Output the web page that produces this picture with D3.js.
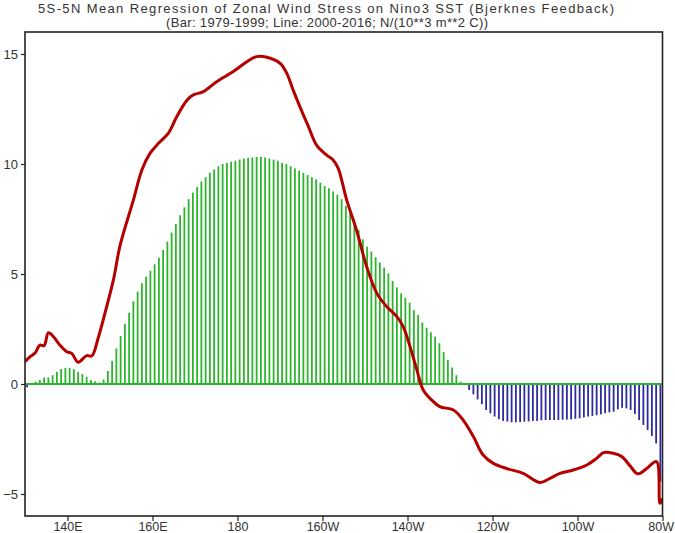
<!DOCTYPE html>
<html>
<head>
<meta charset="utf-8">
<script src="https://cdnjs.cloudflare.com/ajax/libs/d3/7.8.5/d3.min.js"></script>
<style>
  html, body { margin: 0; padding: 0; background: #fff; }
  text { font-family: "Liberation Sans", Arial, sans-serif; fill: #333; }
</style>
</head>
<body>
<div id="chart"></div>
<script>
// bars: regression 1979-1999, one bar per degree (130.5E ... 279.5E)
var barValues = [
  -0.15, 0.03, 0.1, 0.18, 0.29, 0.3, 0.4, 0.55, 0.68, 0.73,
  0.73, 0.67, 0.55, 0.45, 0.33, 0.18, 0.12, 0.06, 0.2, 0.59,
  1.05, 1.62, 2.18, 2.73, 3.24, 3.76, 4.2, 4.58, 4.88, 5.15,
  5.44, 5.74, 6.09, 6.47, 6.88, 7.27, 7.67, 8.03, 8.4, 8.7,
  8.95, 9.2, 9.4, 9.6, 9.75, 9.9, 10.0, 10.05, 10.1, 10.15,
  10.2, 10.25, 10.28, 10.3, 10.32, 10.32, 10.3, 10.25, 10.2, 10.15,
  10.05, 10.0, 9.9, 9.8, 9.7, 9.6, 9.5, 9.4, 9.3, 9.15,
  9.0, 8.9, 8.75, 8.6, 8.4, 8.1, 7.8, 7.45, 7.0, 6.58,
  6.24, 6.02, 5.76, 5.52, 5.29, 5.03, 4.68, 4.39, 4.12, 3.92,
  3.7, 3.36, 3.14, 2.8, 2.56, 2.35, 2.15, 1.85, 1.45, 1.1,
  0.75, 0.4, 0.1, -0.05, -0.27, -0.47, -0.7, -0.92, -1.18, -1.33,
  -1.48, -1.6, -1.68, -1.71, -1.74, -1.74, -1.73, -1.71, -1.7, -1.68,
  -1.68, -1.65, -1.64, -1.64, -1.64, -1.64, -1.62, -1.62, -1.61, -1.58,
  -1.56, -1.52, -1.48, -1.45, -1.42, -1.38, -1.33, -1.29, -1.26, -1.15,
  -1.08, -1.11, -1.18, -1.36, -1.64, -1.86, -2.09, -2.36, -2.7, -4.44
];
var barLon = d3.range(130.5, 280, 1);

// line: regression 2000-2016
var lineLon = [
  130, 131.2, 132.4, 133.5, 134.5, 135.5, 136.7, 138.2, 139.8, 141,
  142.5, 144.5, 145.7, 147.2, 148.8, 150.8, 152.4, 155.5, 157.5, 159.4,
  161.4, 163.7, 165.7, 168.1, 169.6, 172, 175.1, 179, 182.2, 184.5,
  186.9, 190, 191.6, 193.1, 194.7, 196.7, 198.6, 201, 202.5, 203.7,
  205.7, 208, 210.4, 212.8, 215.1, 217.5, 219, 220.6, 222.2, 223.7,
  225.7, 227.6, 230.8, 233.1, 235.5, 237.8, 240.2, 243.3, 247.2, 251.2,
  253.5, 255.9, 259, 262.2, 264.5, 266.1, 268.4, 270.4, 272.4, 273.9,
  274.7, 276.3, 278.6, 279.4, 280
];
var lineValues = [
  1.01, 1.24, 1.42, 1.77, 1.74, 2.33, 2.15, 1.77, 1.47, 1.39,
  0.99, 1.29, 1.27, 2.08, 3.21, 4.73, 6.32, 8.36, 9.73, 10.48,
  10.94, 11.39, 12.15, 12.9, 13.14, 13.29, 13.74, 14.2, 14.65, 14.88,
  14.85, 14.58, 14.12, 13.36, 12.6, 11.7, 10.86, 10.4, 10.18, 9.8,
  8.36, 7.0, 5.33, 4.12, 3.52, 3.06, 2.6, 1.7, 0.64, -0.27,
  -0.73, -1.03, -1.18, -1.64, -2.39, -3.23, -3.61, -3.84, -4.06, -4.48,
  -4.29, -4.06, -3.91, -3.68, -3.38, -3.12, -3.15, -3.3, -3.73, -4.06,
  -4.06, -3.84, -3.53, -5.42, -5.2
];

var xTicks = [140, 160, 180, 200, 220, 240, 260, 280];
var xTickLabels = ["140E", "160E", "180", "160W", "140W", "120W", "100W", "80W"];
var yTicks = [-5, 0, 5, 10, 15];

var titleLines = [
  "5S-5N Mean Regression of Zonal Wind Stress on Nino3 SST (Bjerknes Feedback)",
  "(Bar: 1979-1999; Line: 2000-2016; N/(10**3 m**2 C))"
];

(function(d3){
  var width = 675, height = 533;
  var pLeft = 25, pRight = 662.5, pTop = 32, pBottom = 516;

  var svg = d3.select("#chart").append("svg")
    .attr("width", width)
    .attr("height", height);

  var x = d3.scaleLinear().domain([130, 280]).range([pLeft, pRight]);
  var y = d3.scaleLinear().domain([-6, 16]).range([pBottom, pTop]);

  // 标题
  svg.append("text")
    .attr("x", 326).attr("y", 13)
    .attr("text-anchor", "middle")
    .attr("font-size", 13)
    .attr("textLength", 576)
    .attr("lengthAdjust", "spacing")
    .text(titleLines[0]);
  svg.append("text")
    .attr("x", 327).attr("y", 27)
    .attr("text-anchor", "middle")
    .attr("font-size", 13)
    .attr("textLength", 322)
    .attr("lengthAdjust", "spacing")
    .text(titleLines[1]);

  svg.append("clipPath").attr("id", "clip")
    .append("rect")
    .attr("x", pLeft).attr("y", pTop)
    .attr("width", pRight - pLeft).attr("height", pBottom - pTop);

  var plot = svg.append("g");

  // 柱
  plot.selectAll(".bar")
    .data(barValues)
    .enter()
    .append("rect")
    .attr("class", "bar")
    .attr("x", function(d, i) { return x(barLon[i]) - 0.9; })
    .attr("width", 1.8)
    .attr("y", function(d) { return d >= 0 ? y(d) : y(0); })
    .attr("height", function(d) { return Math.abs(y(d) - y(0)); })
    .attr("fill", function(d) { return d >= 0 ? "#2cb52c" : "#2b2b9e"; });

  // zero line
  plot.append("line")
    .attr("x1", pLeft).attr("x2", pRight)
    .attr("y1", y(0)).attr("y2", y(0))
    .attr("stroke", "#2cb52c")
    .attr("stroke-width", 2);

  // 曲线
  var lineGenerator = d3.line()
    .x(function(d, i) { return x(lineLon[i]); })
    .y(function(d) { return y(d); })
    .curve(d3.curveCatmullRom.alpha(0.5));

  plot.append("path")
    .attr("d", lineGenerator(lineValues))
    .attr("clip-path", "url(#clip)")
    .attr("fill", "none")
    .attr("stroke", "#b50000")
    .attr("stroke-width", 3)
    .attr("stroke-linejoin", "round");

  // frame
  svg.append("rect")
    .attr("x", pLeft).attr("y", pTop)
    .attr("width", pRight - pLeft).attr("height", pBottom - pTop)
    .attr("fill", "none")
    .attr("stroke", "#222")
    .attr("stroke-width", 1.6);

  // axes
  var xAxis = d3.axisBottom(x)
    .tickValues(xTicks)
    .tickSize(5)
    .tickPadding(1)
    .tickFormat(function(d, i) { return xTickLabels[i]; });
  var gx = svg.append("g")
    .attr("transform", "translate(0," + pBottom + ")")
    .call(xAxis);
  gx.select(".domain").remove();
  gx.selectAll("line").attr("stroke", "#222").attr("stroke-width", 1.2);
  gx.selectAll("text").attr("font-size", 12.5).attr("fill", "#333")
    .style("font-family", "Liberation Sans, Arial, sans-serif");
  // keep the right-most label inside the page
  gx.selectAll("text").filter(function(d) { return d === 280; })
    .attr("text-anchor", "end").attr("dx", 11);

  var yAxis = d3.axisLeft(y)
    .tickValues(yTicks)
    .tickSize(4)
    .tickPadding(3)
    .tickFormat(function(d) { return d < 0 ? "\u2212" + Math.abs(d) : d; });
  var gy = svg.append("g")
    .attr("transform", "translate(" + pLeft + ",0)")
    .call(yAxis);
  gy.select(".domain").remove();
  gy.selectAll("line").attr("stroke", "#222").attr("stroke-width", 1.2);
  gy.selectAll("text").attr("font-size", 13).attr("fill", "#333")
    .style("font-family", "Liberation Sans, Arial, sans-serif");
})(d3);
</script>
</body>
</html>
